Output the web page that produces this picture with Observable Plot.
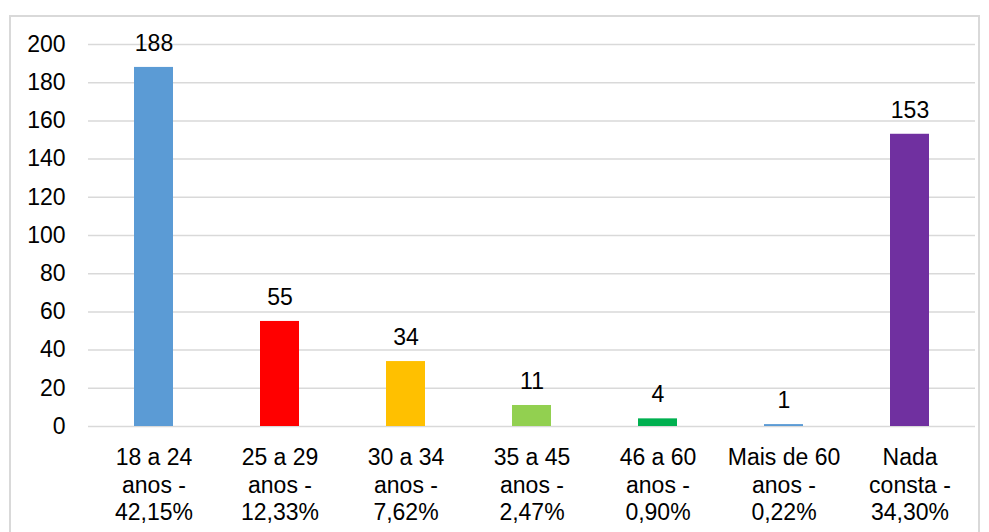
<!DOCTYPE html>
<html>
<head>
<meta charset="utf-8">
<script src="https://cdn.jsdelivr.net/npm/d3@7"></script>
<script src="https://cdn.jsdelivr.net/npm/@observablehq/plot@0.6"></script>
<style>
  html, body { margin: 0; padding: 0; background: #fff; }
  #wrap { position: relative; width: 989px; height: 532px; overflow: hidden; }
  #box { position: absolute; left: 9px; top: 15px; width: 971px; height: 540px; border: 2px solid #d9d9d9; box-sizing: border-box; }
  #chart { position: absolute; left: 0; top: 0; }
</style>
</head>
<body>
<div id="wrap"><div id="box"></div><div id="chart"></div></div>
<script>
const categories = [
  "18 a 24\nanos -\n42,15%",
  "25 a 29\nanos -\n12,33%",
  "30 a 34\nanos -\n7,62%",
  "35 a 45\nanos -\n2,47%",
  "46 a 60\nanos -\n0,90%",
  "Mais de 60\nanos -\n0,22%",
  "Nada\nconsta -\n34,30%"
];
const values = [188, 55, 34, 11, 4, 1, 153];
const colors = ["#5B9BD5", "#FF0000", "#FFC000", "#92D050", "#00B050", "#5B9BD5", "#7030A0"];
const yTicks = [0, 20, 40, 60, 80, 100, 120, 140, 160, 180, 200];

const data = categories.map((c, i) => ({category: c, value: values[i], color: colors[i]}));

const chart = Plot.plot({
  width: 989,
  height: 532,
  marginLeft: 88,
  marginRight: 14,
  marginTop: 44,
  marginBottom: 106,
  style: {fontFamily: "'Liberation Sans', Arial, sans-serif", fontSize: "23px", color: "#000", background: "transparent"},
  x: {domain: categories, paddingInner: 0.69, paddingOuter: 0.345, label: null},
  y: {domain: [0, 200], label: null},
  marks: [
    Plot.gridY(yTicks, {stroke: "#d9d9d9", strokeOpacity: 1, strokeWidth: 1.5}),
    Plot.axisY(yTicks, {tickSize: 0, tickPadding: 23, fontSize: 23, label: null}),
    Plot.axisX({tickSize: 0, tickPadding: 19, fontSize: 23, lineHeight: 1.2, label: null, textAnchor: "middle"}),
    Plot.barY(data, {x: "category", y: "value", fill: "color"}),
    Plot.text(data, {x: "category", y: "value", text: d => String(d.value), dy: -24, fontSize: 23, fill: "#000"})
  ]
});
document.getElementById("chart").appendChild(chart);
</script>
</body>
</html>
